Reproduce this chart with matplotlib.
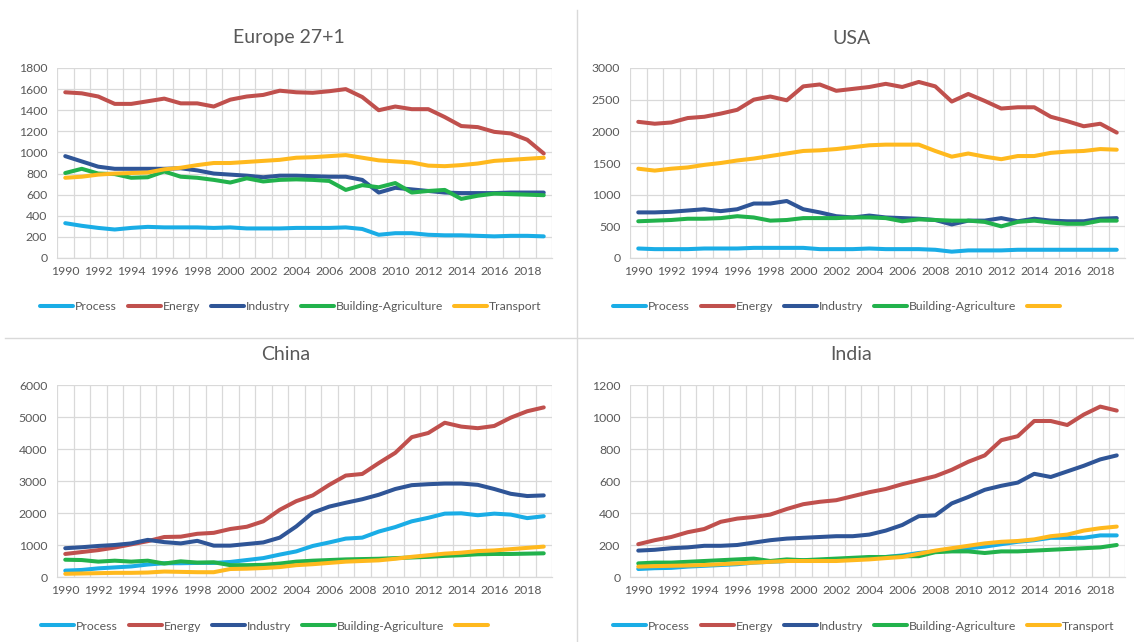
import matplotlib
matplotlib.use("Agg")
import matplotlib.pyplot as plt
from matplotlib.lines import Line2D

plt.rcParams['font.family'] = ['Lato', 'DejaVu Sans']

years = list(range(1990, 2020))
year_labels = [str(y) for y in range(1990, 2019, 2)]
series_names = ["Process", "Energy", "Industry", "Building-Agriculture", "Transport"]

# Europe 27+1
eu_process = [330, 305, 285, 270, 285, 295, 290, 290, 290, 285, 290, 280, 280, 280, 285, 285, 285, 290, 275, 220, 235, 235, 220, 215, 215, 210, 205, 210, 210, 205]
eu_energy = [1570, 1560, 1530, 1460, 1460, 1485, 1510, 1465, 1465, 1435, 1500, 1530, 1545, 1585, 1570, 1565, 1580, 1600, 1525, 1400, 1435, 1410, 1410, 1335, 1250, 1240, 1195, 1180, 1120, 990]
eu_industry = [965, 915, 865, 845, 845, 845, 845, 850, 830, 800, 790, 780, 765, 780, 780, 775, 770, 770, 740, 620, 665, 650, 635, 620, 615, 615, 615, 620, 620, 620]
eu_building = [805, 845, 800, 795, 760, 765, 820, 770, 760, 740, 715, 755, 725, 740, 745, 740, 730, 645, 690, 670, 710, 620, 635, 645, 560, 590, 610, 605, 600, 595]
eu_transport = [760, 770, 790, 800, 805, 810, 840, 855, 880, 900, 900, 910, 920, 930, 950, 955, 965, 975, 950, 925, 915, 905, 875, 870, 880, 895, 920, 930, 940, 950]

# USA
us_process = [150, 140, 140, 140, 150, 150, 150, 160, 160, 160, 160, 140, 140, 140, 150, 140, 140, 140, 130, 100, 120, 120, 120, 130, 130, 130, 130, 130, 130, 130]
us_energy = [2150, 2120, 2140, 2210, 2230, 2280, 2340, 2500, 2550, 2490, 2710, 2740, 2640, 2670, 2700, 2750, 2700, 2780, 2710, 2470, 2590, 2480, 2360, 2380, 2380, 2230, 2160, 2080, 2120, 1980]
us_industry = [720, 720, 730, 750, 770, 740, 770, 860, 860, 900, 770, 720, 660, 640, 670, 640, 630, 620, 600, 530, 590, 590, 630, 580, 620, 590, 580, 580, 620, 630]
us_building = [580, 590, 600, 620, 620, 630, 660, 640, 590, 600, 630, 630, 630, 640, 640, 630, 580, 610, 600, 590, 590, 570, 500, 570, 590, 560, 540, 540, 590, 590]
us_transport = [1410, 1380, 1410, 1430, 1470, 1500, 1540, 1570, 1610, 1650, 1690, 1700, 1720, 1750, 1780, 1790, 1790, 1790, 1690, 1600, 1650, 1600, 1560, 1610, 1610, 1660, 1680, 1690, 1720, 1710]

# China
cn_process = [200, 220, 270, 300, 330, 390, 430, 430, 440, 440, 470, 530, 590, 700, 800, 970, 1080, 1200, 1230, 1420, 1560, 1740, 1850, 1980, 1990, 1930, 1980, 1950, 1840, 1900]
cn_energy = [720, 780, 840, 920, 1020, 1120, 1250, 1260, 1350, 1380, 1500, 1570, 1740, 2100, 2370, 2550, 2880, 3170, 3220, 3560, 3880, 4370, 4500, 4820, 4700, 4650, 4720, 4980, 5180, 5300]
cn_industry = [900, 930, 970, 1000, 1050, 1160, 1090, 1050, 1130, 980, 980, 1030, 1080, 1230, 1580, 2010, 2200, 2320, 2430, 2570, 2750, 2870, 2900, 2920, 2920, 2880, 2750, 2600, 2530, 2550]
cn_building = [540, 530, 480, 510, 480, 510, 420, 490, 450, 460, 370, 370, 380, 420, 480, 510, 530, 550, 560, 570, 590, 610, 630, 660, 680, 710, 720, 720, 730, 740]
cn_transport = [100, 110, 120, 130, 130, 140, 170, 160, 150, 150, 250, 260, 280, 310, 370, 400, 440, 480, 500, 520, 570, 630, 680, 730, 760, 810, 830, 870, 910, 950]

# India
in_process = [50, 55, 57, 65, 70, 75, 80, 90, 95, 100, 105, 105, 110, 115, 120, 125, 135, 150, 160, 170, 180, 190, 205, 220, 230, 245, 245, 245, 260, 260]
in_energy = [205, 230, 250, 280, 300, 345, 365, 375, 390, 425, 455, 470, 480, 505, 530, 550, 580, 605, 630, 670, 720, 760, 855, 880, 975, 975, 950, 1015, 1065, 1040]
in_industry = [165, 170, 180, 185, 195, 195, 200, 215, 230, 240, 245, 250, 255, 255, 265, 290, 325, 380, 385, 460, 500, 545, 570, 590, 645, 625, 660, 695, 735, 760]
in_building = [85, 90, 90, 95, 100, 105, 110, 115, 100, 110, 105, 110, 115, 120, 125, 125, 130, 130, 155, 160, 160, 150, 160, 160, 165, 170, 175, 180, 185, 200]
in_transport = [65, 68, 70, 72, 75, 80, 85, 90, 95, 100, 100, 100, 100, 105, 110, 118, 125, 145, 165, 180, 195, 210, 220, 225, 235, 255, 265, 290, 305, 315]

colors = ["#1AADE6", "#C0504D", "#2F5597", "#22B24C", "#FFB91E"]
text_color = "#595959"
grid_color = "#D9D9D9"

W, H = 1134, 642
fig = plt.figure(figsize=(W / 100, H / 100), dpi=100)

def px_axes(l, t, r, b):
    return fig.add_axes([l / W, 1 - b / H, (r - l) / W, (b - t) / H])

# title, data, plot box (px), y max, y step, transport label shown, title centre x, legend left x
panels = [
    ("Europe 27+1", [eu_process, eu_energy, eu_industry, eu_building, eu_transport], (57, 68, 552, 258), 1800, 200, True, 289, 40),
    ("USA", [us_process, us_energy, us_industry, us_building, us_transport], (630, 68, 1125, 258), 3000, 500, False, 851, 613),
    ("China", [cn_process, cn_energy, cn_industry, cn_building, cn_transport], (57, 385, 552, 577), 6000, 1000, False, 286, 41),
    ("India", [in_process, in_energy, in_industry, in_building, in_transport], (630, 385, 1125, 577), 1200, 200, True, 851, 613),
]

for title, data, box, ymax, ystep, show_transport, tx, lx in panels:
    ax = px_axes(*box)
    handles = []
    for vals, c in zip(data, colors):
        ax.plot(years, vals, color=c, lw=2.9, solid_capstyle='round', solid_joinstyle='round', zorder=3)
        handles.append(Line2D([], [], color=c, lw=2.9, solid_capstyle='round'))
    ax.set_xlim(1989.5, 2019.5)
    ax.set_ylim(0, ymax)
    ax.set_yticks(range(0, ymax + 1, ystep))
    ax.set_xticks(range(1990, 2019, 2))
    ax.set_xticklabels(year_labels)
    ax.set_xticks([1989.5 + k for k in range(31)], minor=True)
    ax.grid(True, axis='y', which='major', color=grid_color, lw=0.9, zorder=0)
    ax.grid(True, axis='x', which='minor', color=grid_color, lw=0.9, zorder=0)
    ax.tick_params(axis='both', which='both', length=0, colors=text_color, labelsize=8.8)
    ax.tick_params(axis='y', pad=7)
    ax.tick_params(axis='x', pad=6)
    for s in ax.spines.values():
        s.set_visible(False)
    ax.spines['bottom'].set_visible(True)
    ax.spines['bottom'].set_color(grid_color)
    ax.spines['bottom'].set_linewidth(0.9)
    l, t, r, b = box
    fig.text(tx / W, 1 - (t - 30) / H, title, ha='center', va='center', fontsize=14, color=text_color)
    labels = list(series_names)
    if not show_transport:
        labels[-1] = ""
    fig.legend(handles, labels, loc='center left', bbox_to_anchor=(lx / W, 1 - (b + 49) / H), ncol=5,
               frameon=False, fontsize=8.8, handlelength=2.7, handletextpad=0.15, columnspacing=0.9,
               borderpad=0, borderaxespad=0, labelcolor=text_color)

# panel dividers
fig.add_artist(Line2D([577 / W, 577 / W], [0, 1 - 10 / H], color=grid_color, lw=1.0))
fig.add_artist(Line2D([5 / W, 1], [1 - 338 / H, 1 - 338 / H], color=grid_color, lw=1.0))

fig.savefig("out.png", dpi=100, facecolor="white")
